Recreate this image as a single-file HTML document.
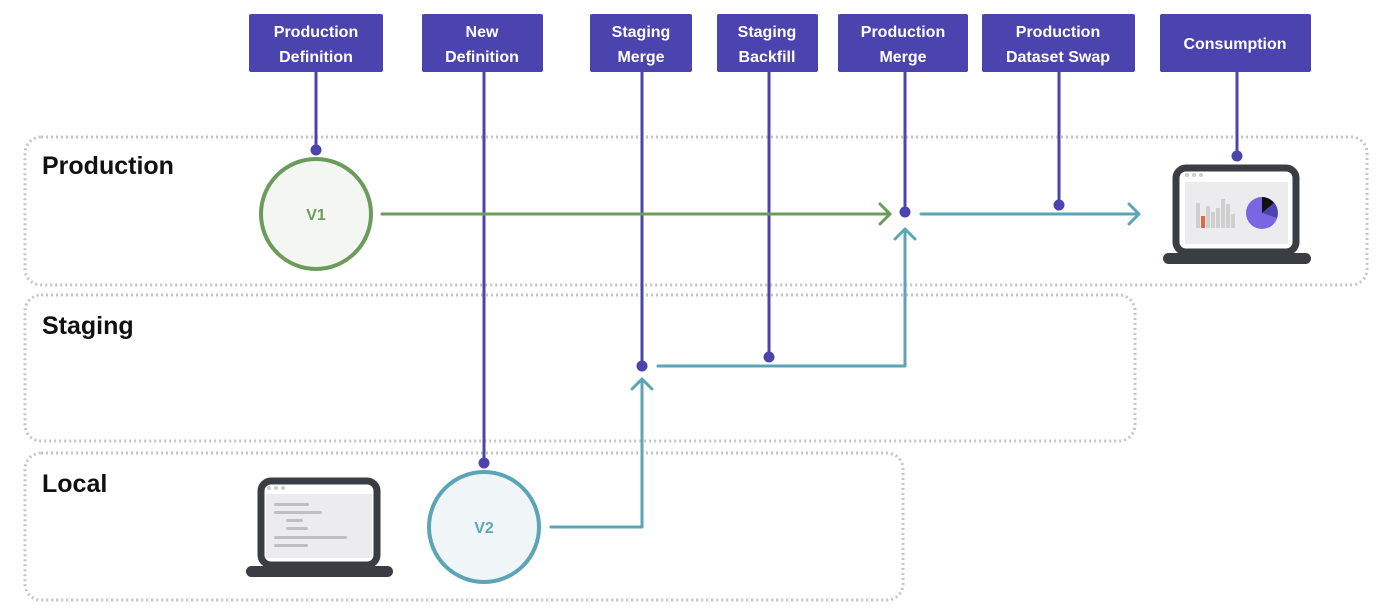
<!DOCTYPE html>
<html><head><meta charset="utf-8"><style>
html,body{margin:0;padding:0;background:#fff;}
svg{display:block;font-family:"Liberation Sans",sans-serif;}
.bt{fill:#fff;font-weight:bold;font-size:16px;text-anchor:middle;}
.lane{fill:none;stroke:#c4c4c4;stroke-width:3;stroke-dasharray:2 3;}
.lab{font-weight:bold;font-size:25px;fill:#111;}
</style></head><body>
<svg width="1384" height="614" viewBox="0 0 1384 614">
<rect class="lane" x="25" y="137" width="1342" height="148" rx="16"/>
<rect class="lane" x="25" y="295" width="1110" height="146" rx="16"/>
<rect class="lane" x="25" y="453" width="878" height="147" rx="16"/>
<text class="lab" x="42" y="174">Production</text>
<text class="lab" x="42" y="334">Staging</text>
<text class="lab" x="42" y="492">Local</text>

<g fill="#4b44ae">
<rect x="249" y="14" width="134" height="58" rx="2"/>
<rect x="422" y="14" width="121" height="58" rx="2"/>
<rect x="590" y="14" width="102" height="58" rx="2"/>
<rect x="717" y="14" width="101" height="58" rx="2"/>
<rect x="838" y="14" width="130" height="58" rx="2"/>
<rect x="982" y="14" width="153" height="58" rx="2"/>
<rect x="1160" y="14" width="151" height="58" rx="2"/>
</g>
<text class="bt" x="316" y="37">Production</text><text class="bt" x="316" y="62">Definition</text>
<text class="bt" x="482" y="37">New</text><text class="bt" x="482" y="62">Definition</text>
<text class="bt" x="641" y="37">Staging</text><text class="bt" x="641" y="62">Merge</text>
<text class="bt" x="767" y="37">Staging</text><text class="bt" x="767" y="62">Backfill</text>
<text class="bt" x="903" y="37">Production</text><text class="bt" x="903" y="62">Merge</text>
<text class="bt" x="1058" y="37">Production</text><text class="bt" x="1058" y="62">Dataset Swap</text>
<text class="bt" x="1235" y="49">Consumption</text>

<g stroke="#4b44ae" stroke-width="3">
<line x1="316" y1="72" x2="316" y2="150"/>
<line x1="484" y1="72" x2="484" y2="463"/>
<line x1="642" y1="72" x2="642" y2="366"/>
<line x1="769" y1="72" x2="769" y2="357"/>
<line x1="905" y1="72" x2="905" y2="212"/>
<line x1="1059" y1="72" x2="1059" y2="205"/>
<line x1="1237" y1="72" x2="1237" y2="156"/>
</g>

<circle cx="316" cy="214" r="55" fill="#f3f6f1" stroke="#6c9c5c" stroke-width="4"/>
<text x="316" y="220" text-anchor="middle" font-weight="bold" font-size="16" fill="#6c9c5c">V1</text>
<circle cx="484" cy="527" r="55" fill="#f0f6f8" stroke="#5ba5b7" stroke-width="4"/>
<text x="484" y="533" text-anchor="middle" font-weight="bold" font-size="16" fill="#5ba5b7">V2</text>

<g fill="none" stroke-width="3" stroke-linecap="round" stroke-linejoin="round">
<path d="M382 214H890M880 204L890 214L880 224" stroke="#6c9c5c"/>
<path d="M921 214H1139M1129 204L1139 214L1129 224" stroke="#5ba5b7"/>
<path d="M551 527H642V379M632 389L642 379L652 389" stroke="#5ba5b7"/>
<path d="M658 366H905V229M895 239L905 229L915 239" stroke="#5ba5b7"/>
</g>

<g fill="#4b44ae">
<circle cx="316" cy="150" r="5.5"/><circle cx="484" cy="463" r="5.5"/>
<circle cx="642" cy="366" r="5.5"/><circle cx="769" cy="357" r="5.5"/>
<circle cx="905" cy="212" r="5.5"/><circle cx="1059" cy="205" r="5.5"/>
<circle cx="1237" cy="156" r="5.5"/>
</g>

<!-- consumption laptop -->
<rect x="1176" y="168" width="120" height="84" rx="10" fill="#fff" stroke="#3a3d42" stroke-width="7"/>
<rect x="1163" y="253" width="148" height="11" rx="5.5" fill="#3a3d42"/>
<rect x="1185" y="182" width="103" height="62" fill="#ececee"/>
<g fill="#ccc"><circle cx="1187" cy="175" r="2"/><circle cx="1194" cy="175" r="2"/><circle cx="1201" cy="175" r="2"/></g>
<g fill="#cfcfcf">
<rect x="1196" y="203" width="4" height="25"/><rect x="1206" y="206" width="4" height="22"/>
<rect x="1211" y="212" width="4" height="16"/><rect x="1216" y="208" width="4" height="20"/>
<rect x="1221" y="199" width="4" height="29"/><rect x="1226" y="204" width="4" height="24"/><rect x="1231" y="214" width="4" height="14"/>
</g>
<rect x="1201" y="216" width="4" height="12" fill="#e0683e"/>
<circle cx="1262" cy="213" r="16" fill="#7a66e0"/>
<path d="M1262 213L1262 197A16 16 0 0 1 1274 203Z" fill="#111"/>
<path d="M1262 213L1274 203A16 16 0 0 1 1277 218Z" fill="#4b44ae"/>

<!-- local laptop -->
<rect x="261" y="481" width="116" height="84" rx="10" fill="#fff" stroke="#3a3d42" stroke-width="7"/>
<rect x="246" y="566" width="147" height="11" rx="5.5" fill="#3a3d42"/>
<rect x="266" y="494" width="106" height="64" fill="#ececee"/>
<g fill="#ccc"><circle cx="269" cy="488" r="2"/><circle cx="276" cy="488" r="2"/><circle cx="283" cy="488" r="2"/></g>
<g fill="#bfbfc2">
<rect x="274" y="503" width="35" height="3" rx="1.5"/><rect x="274" y="511" width="48" height="3" rx="1.5"/>
<rect x="286" y="519" width="17" height="3" rx="1.5"/><rect x="286" y="527" width="22" height="3" rx="1.5"/>
<rect x="274" y="536" width="73" height="3" rx="1.5"/><rect x="274" y="544" width="34" height="3" rx="1.5"/>
</g>
</svg>
</body></html>
